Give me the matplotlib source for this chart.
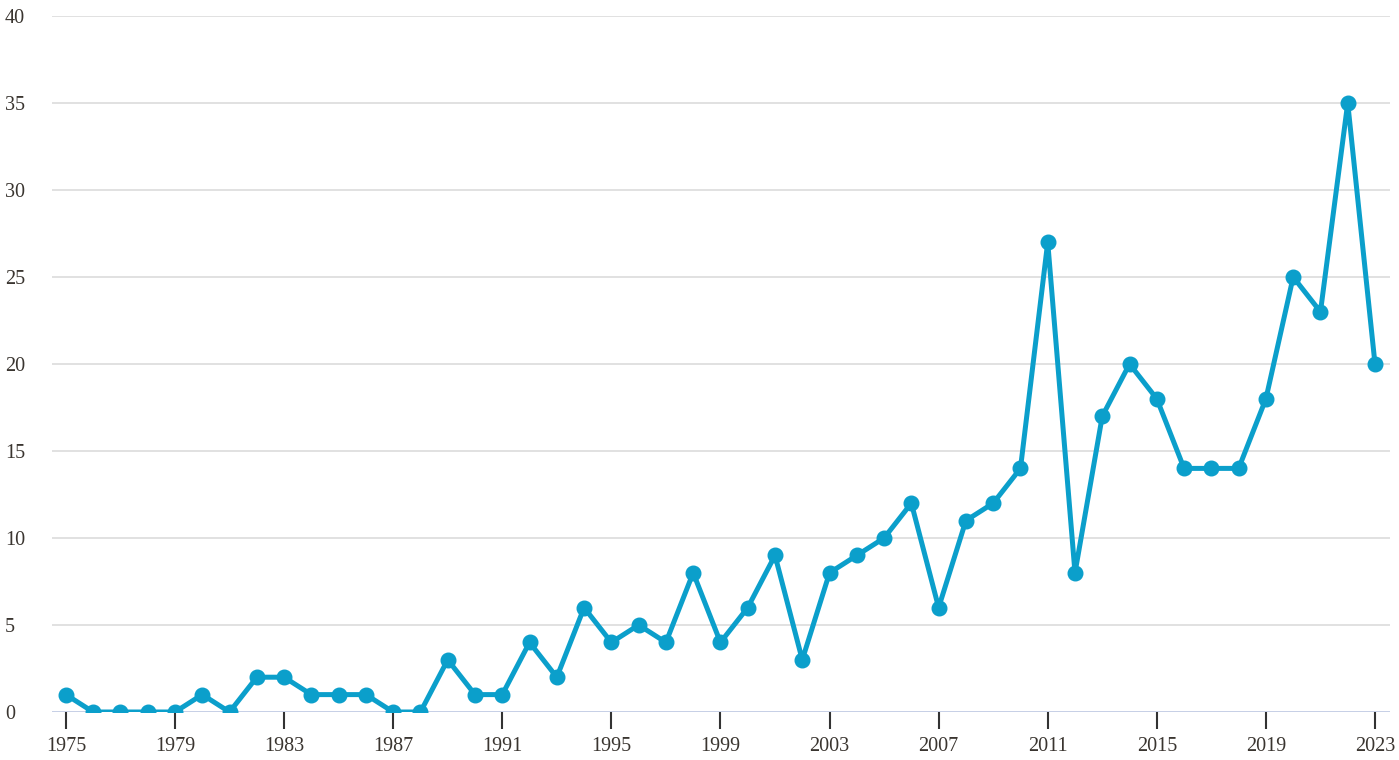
import matplotlib.pyplot as plt

years = list(range(1975, 2024))
counts = [1, 0, 0, 0, 0, 1, 0, 2, 2, 1, 1, 1, 0, 0, 3, 1, 1, 4, 2, 6,
          4, 5, 4, 8, 4, 6, 9, 3, 8, 9, 10, 12, 6, 11, 12, 14, 27, 8, 17, 20,
          18, 14, 14, 14, 18, 25, 23, 35, 20]
xticks = list(range(1975, 2024, 4))
yticks = [0, 5, 10, 15, 20, 25, 30, 35, 40]

plt.rcParams['font.family'] = ['Liberation Serif', 'DejaVu Serif']

fig = plt.figure(figsize=(13.99, 7.6), dpi=100)
ax = fig.add_axes([52 / 1399, 1 - 712 / 760, (1390 - 52) / 1399, (712 - 16) / 760])

color = '#0b9fcb'
ax.plot(years, counts, color=color, lw=3.6, marker='o', ms=10.5, zorder=3,
        solid_joinstyle='round')

ax.set_xlim(1974.49, 2023.55)
ax.set_ylim(0, 40)
ax.set_yticks(yticks)
ax.set_xticks(xticks)

for y in yticks[1:]:
    ax.axhline(y, color='#dcdcdc', lw=1.2, zorder=1)
ax.axhline(0, color='#c6cfe6', lw=1.4, zorder=1)

for s in ax.spines.values():
    s.set_visible(False)

ax.tick_params(axis='y', length=0, pad=34, labelsize=14.5, labelcolor='#3a3530')
for lab in ax.get_yticklabels():
    lab.set_horizontalalignment('left')
ax.tick_params(axis='x', length=12, width=1.5, color='#333333', pad=6,
               labelsize=14.5, labelcolor='#3a3530')

fig.savefig('out.png', dpi=100)
